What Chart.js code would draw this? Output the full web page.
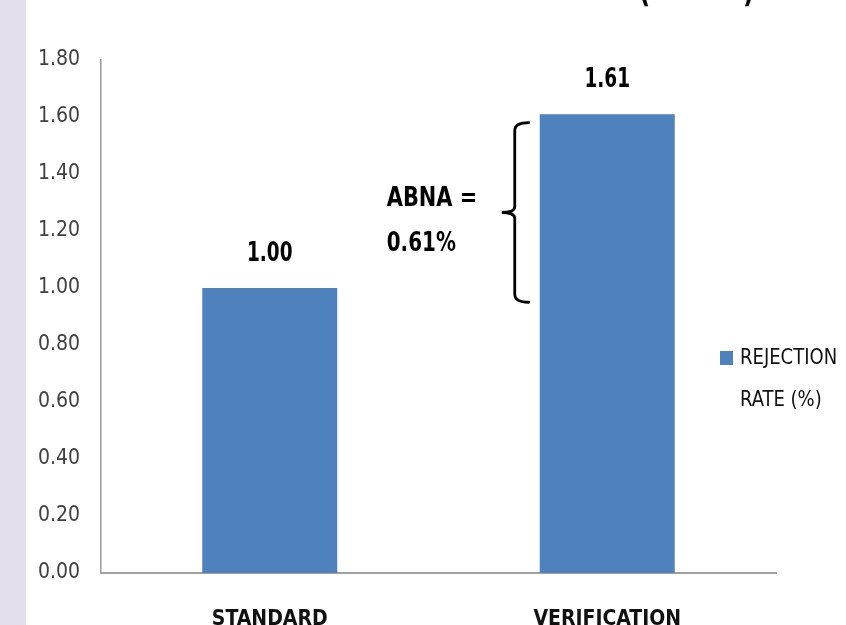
<!DOCTYPE html>
<html>
<head>
<meta charset="utf-8">
<script src="https://cdn.jsdelivr.net/npm/chart.js@4"></script>
<style>
  html, body { margin: 0; padding: 0; background: #ffffff; }
  #wrap { position: relative; width: 846px; height: 625px; overflow: hidden; }
  #strip { position: absolute; left: 0; top: 0; width: 26px; height: 625px; background: #e4dfec; }
  canvas { position: absolute; left: 0; top: 0; }
</style>
</head>
<body>
<div id="wrap">
  <div id="strip"></div>
  <canvas id="c" width="846" height="625"></canvas>
</div>
<script>
// ---- data ----
const categories = ['STANDARD', 'VERIFICATION'];
const rejectionRate = [1.00, 1.61];
const seriesLabel = ['REJECTION', 'RATE (%)'];
const yTickValues = [0, 0.2, 0.4, 0.6, 0.8, 1.0, 1.2, 1.4, 1.6, 1.8];
const annotationText = ['ABNA =', '0.61%'];
const braceRange = [0.95, 1.58];
const titleFragment = ['(', ')'];

const FONT = '"Liberation Sans Narrow", "DejaVu Sans Condensed", "Liberation Sans", sans-serif';
const BAR_COLOR = '#4f81bd';

function narrowText(ctx, text, x, y, sx) {
  ctx.save();
  ctx.translate(x, y);
  ctx.scale(sx, 1);
  ctx.fillText(text, 0, 0);
  ctx.restore();
}

const overlay = {
  id: 'overlay',
  afterDatasetsDraw(chart) {
    const ctx = chart.ctx;
    const meta = chart.getDatasetMeta(0);
    const y = chart.scales.y;
    ctx.save();
    // value labels
    ctx.fillStyle = '#000';
    ctx.font = 'bold 27px ' + FONT;
    ctx.textAlign = 'center';
    ctx.textBaseline = 'middle';
    meta.data.forEach((bar, i) => {
      narrowText(ctx, rejectionRate[i].toFixed(2), bar.x, bar.y - 34, 0.76);
    });
    // brace next to the second bar
    const b = meta.data[1];
    const bx = b.x - b.width / 2 - 25;
    const top = y.getPixelForValue(braceRange[1]);
    const bot = y.getPixelForValue(braceRange[0]);
    const mid = (top + bot) / 2;
    ctx.strokeStyle = '#000';
    ctx.lineWidth = 2.8;
    ctx.lineCap = 'round';
    ctx.beginPath();
    ctx.moveTo(bx + 14, top);
    ctx.quadraticCurveTo(bx, top, bx, top + 8);
    ctx.lineTo(bx, mid - 6);
    ctx.quadraticCurveTo(bx, mid, bx - 13, mid);
    ctx.quadraticCurveTo(bx, mid, bx, mid + 6);
    ctx.lineTo(bx, bot - 8);
    ctx.quadraticCurveTo(bx, bot, bx + 14, bot);
    ctx.stroke();
    // annotation text
    ctx.font = 'bold 27px ' + FONT;
    ctx.textAlign = 'left';
    ctx.fillStyle = '#000';
    narrowText(ctx, annotationText[0], bx - 128, mid - 13, 0.86);
    narrowText(ctx, annotationText[1], bx - 128, mid + 32, 0.82);
    // legend
    const ly = 358;
    ctx.fillStyle = BAR_COLOR;
    ctx.fillRect(chart.chartArea.right - 56, ly - 7, 13, 14);
    ctx.fillStyle = '#111';
    ctx.font = '22px ' + FONT;
    narrowText(ctx, seriesLabel[0], chart.chartArea.right - 36, ly, 0.91);
    narrowText(ctx, seriesLabel[1], chart.chartArea.right - 36, ly + 42, 0.91);
    // cut-off title fragment
    ctx.font = 'bold 34px ' + FONT;
    ctx.textBaseline = 'alphabetic';
    ctx.fillStyle = '#000';
    narrowText(ctx, titleFragment[0], 639, 2, 0.8);
    narrowText(ctx, titleFragment[1], 743, 2, 0.8);
    ctx.restore();
  }
};

new Chart(document.getElementById('c'), {
  type: 'bar',
  data: {
    labels: categories,
    datasets: [{
      label: seriesLabel.join(' '),
      data: rejectionRate,
      backgroundColor: BAR_COLOR,
      borderWidth: 0,
      categoryPercentage: 1,
      barPercentage: 0.4
    }]
  },
  options: {
    responsive: false,
    animation: false,
    layout: { padding: { left: 26, right: 70, top: 60, bottom: 0 } },
    plugins: { legend: { display: false }, tooltip: { enabled: false }, title: { display: false } },
    scales: {
      y: {
        min: 0, max: 1.8,
        afterBuildTicks(scale) { scale.ticks = yTickValues.map(v => ({ value: v })); },
        afterFit(scale) { scale.width = 75; },
        ticks: {
          callback: v => Number(v).toFixed(2),
          color: '#404040',
          font: { family: FONT, size: 21 },
          padding: 21
        },
        grid: { display: false, drawTicks: false },
        border: { display: true, color: '#9a9a9a', width: 1.5 }
      },
      x: {
        afterFit(scale) { scale.height = 52; },
        ticks: {
          color: '#111',
          font: { family: FONT, size: 21, weight: 'bold' },
          padding: 34
        },
        grid: { display: false, drawTicks: false },
        border: { display: true, color: '#a0a0a0', width: 2 }
      }
    }
  },
  plugins: [overlay]
});
</script>
</body>
</html>
